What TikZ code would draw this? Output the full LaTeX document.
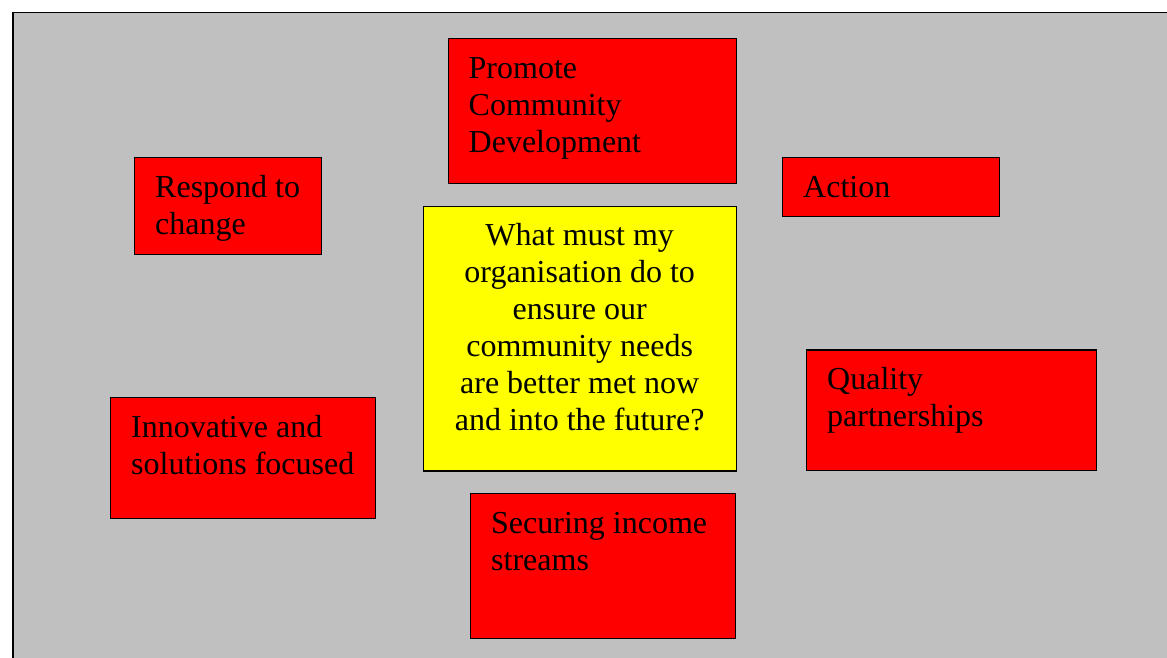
\documentclass[tikz,border=0pt]{standalone}
\usepackage{fontspec}
\setmainfont{Liberation Serif}
\usetikzlibrary{calc}
\definecolor{bggray}{HTML}{C0C0C0}
\definecolor{cardred}{HTML}{FF0000}
\definecolor{cardyellow}{HTML}{FFFF00}
\begin{document}
\begin{tikzpicture}[x=1pt,y=-1pt,
  card/.style={draw=black, line width=1.3pt, fill=cardred, inner sep=0pt, anchor=north west},
  lbl/.style={inner sep=0pt, anchor=base west, font=\fontsize{32}{37}\selectfont}]
\useasboundingbox (0,0) rectangle (1167,657);
\fill[white] (0,0) rectangle (1167,657);
\draw[line width=1.6pt, fill=bggray] (13,12.3) rectangle (1180,670);

\node[card, minimum width=288.5pt, minimum height=145pt] (promote) at (447.5,38) {};
\node[lbl] (promotet) at ($(promote.north west)+(21,40)$) {\parbox[t]{280pt}{Promote\\Community\\Development}};

\node[card, minimum width=187pt, minimum height=97pt] (respond) at (134,157) {};
\node[lbl] (respondt) at ($(respond.north west)+(21,40)$) {\parbox[t]{180pt}{Respond to\\change}};

\node[card, minimum width=217pt, minimum height=59pt] (action) at (782,157) {};
\node[lbl] (actiont) at ($(action.north west)+(21,40)$) {\parbox[t]{180pt}{Action}};

\node[card, fill=cardyellow, minimum width=313pt, minimum height=264.5pt] (center) at (423,205.7) {};
\node[lbl] (centert) at ($(center.north west)+(0,40)$) {\parbox[t]{313pt}{\centering What must my\\organisation do to\\ensure our\\community needs\\are better met now\\and into the future?}};

\node[card, minimum width=289.5pt, minimum height=120.7pt] (quality) at (806,349.3) {};
\node[lbl] (qualityt) at ($(quality.north west)+(21,40)$) {\parbox[t]{260pt}{Quality\\partnerships}};

\node[card, minimum width=265pt, minimum height=121pt] (innov) at (110,397) {};
\node[lbl] (innovt) at ($(innov.north west)+(21,40)$) {\parbox[t]{260pt}{Innovative and\\solutions focused}};

\node[card, minimum width=265pt, minimum height=145pt] (secure) at (470,493) {};
\node[lbl] (securet) at ($(secure.north west)+(21,40)$) {\parbox[t]{260pt}{Securing income\\streams}};
\end{tikzpicture}
\end{document}
